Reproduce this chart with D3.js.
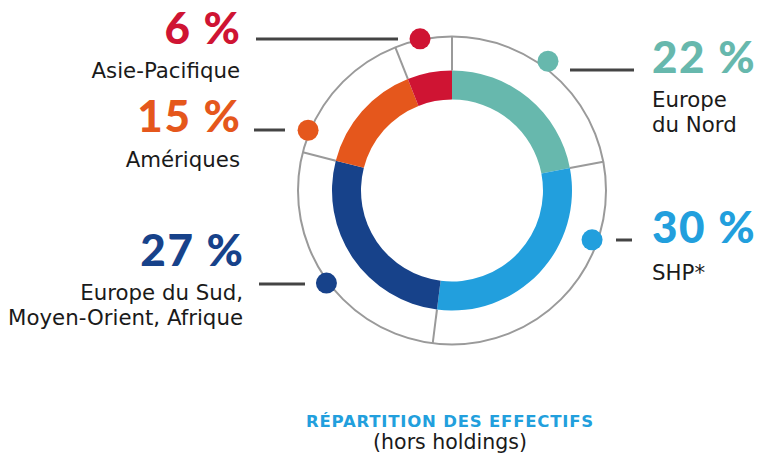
<!DOCTYPE html>
<html><head><meta charset="utf-8">
<script src="https://cdn.jsdelivr.net/npm/d3@7/dist/d3.min.js"></script>
<style>
html,body{margin:0;padding:0;background:#fff;}
svg{display:block;}
</style></head>
<body>
<svg id="chart" width="758" height="453"></svg>
<script>
// ---- data ----
const regions = ["Europe du Nord", "SHP*", "Europe du Sud, Moyen-Orient, Afrique", "Amériques", "Asie-Pacifique"];
const shares = [22, 30, 27, 15, 6];
const percentLabels = ["22 %", "30 %", "27 %", "15 %", "6 %"];
const nameLines = [["Europe", "du Nord"], ["SHP*"], ["Europe du Sud,", "Moyen-Orient, Afrique"], ["Amériques"], ["Asie-Pacifique"]];
const colors = ["#67b8ad", "#229fdd", "#17428a", "#e5571c", "#cf1433"];
const title = "RÉPARTITION DES EFFECTIFS";
const subtitle = "(hors holdings)";

// ---- layout ----
const cx = 452, cy = 190.5;
const rInner = 91, rOuter = 120, rRing = 154;
const dotAngle = [36.6, 109.4, 233.6, 292.7, 348.1];
const dotRadius = [161, 148.5, 156, 156, 155];
const side = ["right", "right", "left", "left", "left"];
const labelX = [652, 652, 243, 240, 240];
const pctBaseline = [73, 243, 266, 132, 44];
const nameBaseline = [[107, 132], [280], [300, 325], [167], [78]];
const leader = [[570, 634, 70], [616, 632, 240], [259, 305, 284], [254, 285, 130], [256, 398, 39]];
const pctSpacing = 1.6;

const svg = d3.select("#chart");
const g = svg.append("g").attr("transform", `translate(${cx},${cy})`);

const pie = d3.pie().sort(null).value(d => d)(shares);
const arc = d3.arc().innerRadius(rInner).outerRadius(rOuter);
const deg = d3.scaleLinear().domain([0, 360]).range([0, 2 * Math.PI]);

// outer ring
g.append("circle").attr("r", rRing).attr("fill", "none").attr("stroke", "#9a9a9a").attr("stroke-width", 2);

// separators
g.selectAll("line.sep").data(pie).join("line")
  .attr("class", "sep")
  .attr("x1", d => rOuter * Math.sin(d.startAngle))
  .attr("y1", d => -rOuter * Math.cos(d.startAngle))
  .attr("x2", d => rRing * Math.sin(d.startAngle))
  .attr("y2", d => -rRing * Math.cos(d.startAngle))
  .attr("stroke", "#9a9a9a").attr("stroke-width", 2);

// donut
g.selectAll("path.seg").data(pie).join("path")
  .attr("class", "seg")
  .attr("d", arc)
  .attr("fill", (d, i) => colors[i]);

// leader lines
svg.selectAll("line.leader").data(leader).join("line")
  .attr("class", "leader")
  .attr("x1", d => d[0]).attr("x2", d => d[1])
  .attr("y1", d => d[2]).attr("y2", d => d[2])
  .attr("stroke", "#444").attr("stroke-width", 3);

// dots
g.selectAll("circle.dot").data(shares).join("circle")
  .attr("class", "dot")
  .attr("cx", (d, i) => dotRadius[i] * Math.sin(deg(dotAngle[i])))
  .attr("cy", (d, i) => -dotRadius[i] * Math.cos(deg(dotAngle[i])))
  .attr("r", 10.5)
  .attr("fill", (d, i) => colors[i]);

// labels
shares.forEach((v, i) => {
  const anchor = side[i] === "left" ? "end" : "start";
  svg.append("text")
    .attr("x", labelX[i] + (anchor === "end" ? pctSpacing : 0)).attr("y", pctBaseline[i])
    .attr("text-anchor", anchor)
    .attr("font-family", "Lato, 'Open Sans', sans-serif")
    .attr("font-weight", 900)
    .attr("font-size", 44)
    .attr("letter-spacing", pctSpacing)
    .attr("fill", colors[i])
    .text(percentLabels[i]);
  nameLines[i].forEach((t, j) => {
    svg.append("text")
      .attr("x", labelX[i]).attr("y", nameBaseline[i][j])
      .attr("text-anchor", anchor)
      .attr("font-family", "'DejaVu Sans', sans-serif")
      .attr("font-size", 21.3)
      .attr("fill", "#1a1a1a")
      .text(t);
  });
});

svg.append("text")
  .attr("x", 450).attr("y", 427)
  .attr("text-anchor", "middle")
  .attr("font-family", "'DejaVu Sans', sans-serif")
  .attr("font-weight", 700)
  .attr("font-size", 16.5)
  .attr("letter-spacing", 0.8)
  .attr("fill", "#229fdd")
  .text(title);
svg.append("text")
  .attr("x", 450).attr("y", 449)
  .attr("text-anchor", "middle")
  .attr("font-family", "'DejaVu Sans', sans-serif")
  .attr("font-size", 20.5)
  .attr("fill", "#1a1a1a")
  .text(subtitle);
</script>
</body></html>
